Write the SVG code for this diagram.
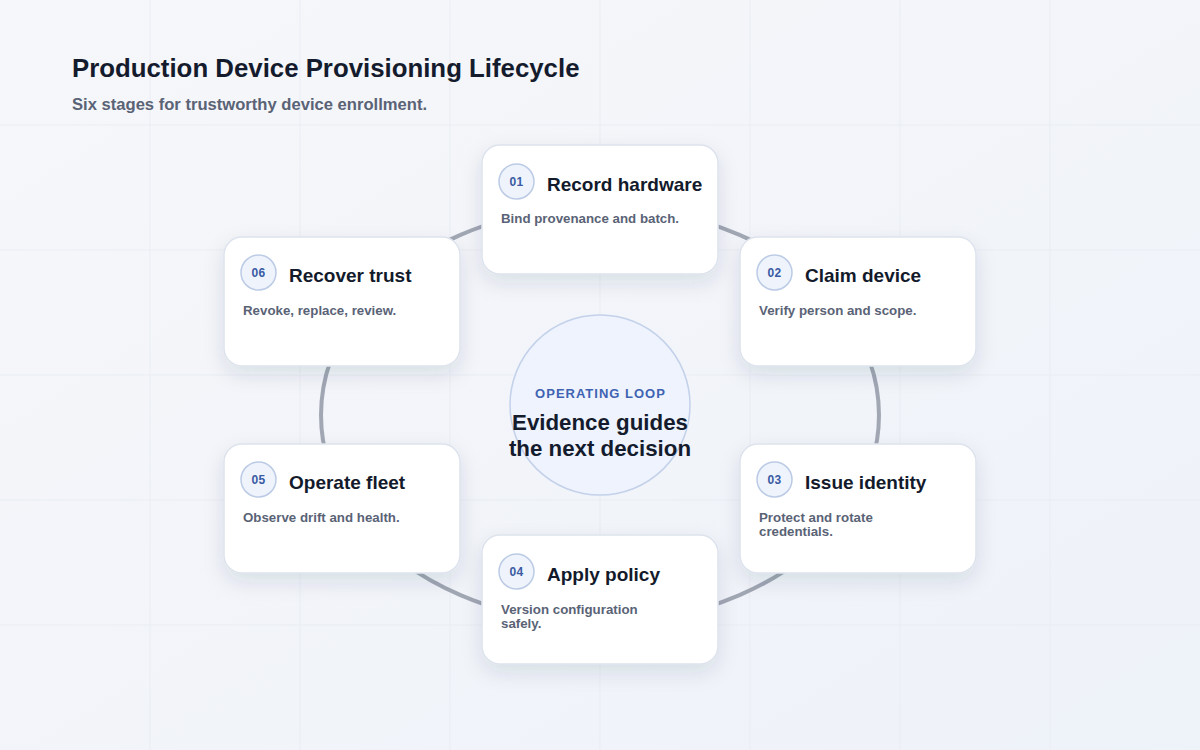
<svg xmlns="http://www.w3.org/2000/svg" width="1200" height="750" viewBox="0 0 1200 750">
<defs>
<linearGradient id="bg" x1="0" y1="0" x2="1" y2="1">
<stop offset="0" stop-color="#f6f7fa"/>
<stop offset="1" stop-color="#eef2f9"/>
</linearGradient>
<filter id="sh" x="-25%" y="-25%" width="150%" height="160%">
<feDropShadow dx="0" dy="8" stdDeviation="10" flood-color="#1f2b45" flood-opacity="0.11"/>
</filter>
<style>
text{font-family:"Liberation Sans",Arial,Helvetica,sans-serif;font-weight:700}
.grid line{stroke:#e9edf3;stroke-width:1}
.card-bg{fill:#ffffff;stroke:#dde3ed;stroke-width:1.5;filter:url(#sh)}
.badge{fill:#eef3fc;stroke:#bccbe5;stroke-width:1.5}
.num{font-size:12px;fill:#3a5ba3;text-anchor:middle;letter-spacing:0.4px}
.ttl{font-size:19px;fill:#131a2b}
.desc{font-size:13.3px;fill:#5a6376}
.ring{fill:none;stroke:#a1a7b3;stroke-width:4;stroke-linecap:round}
.core{fill:#eef3fd;stroke:#c3d1ea;stroke-width:1.5}
.eyebrow{font-size:13px;fill:#3f63b2;text-anchor:middle;letter-spacing:1px}
.big{font-size:22.3px;fill:#141b2d;text-anchor:middle}
.h1{font-size:25.8px;fill:#141b2d}
.h2{font-size:16.6px;fill:#5a6376}
</style>
</defs>
<rect width="1200" height="750" fill="url(#bg)"/>
<g class="grid">
<line x1="150" y1="0" x2="150" y2="750"/>
<line x1="300" y1="0" x2="300" y2="750"/>
<line x1="450" y1="0" x2="450" y2="750"/>
<line x1="600" y1="0" x2="600" y2="750"/>
<line x1="750" y1="0" x2="750" y2="750"/>
<line x1="900" y1="0" x2="900" y2="750"/>
<line x1="1050" y1="0" x2="1050" y2="750"/>
<line x1="0" y1="125" x2="1200" y2="125"/>
<line x1="0" y1="250" x2="1200" y2="250"/>
<line x1="0" y1="375" x2="1200" y2="375"/>
<line x1="0" y1="500" x2="1200" y2="500"/>
<line x1="0" y1="625" x2="1200" y2="625"/>
</g>
<g id="title">
<text class="h1" x="72" y="77">Production Device Provisioning Lifecycle</text>
<text class="h2" x="72" y="109.5">Six stages for trustworthy device enrollment.</text>
</g>
<g id="connectors">
<path class="ring" d="M600 207 A279 208 0 0 1 841.6 311"/>
<path class="ring" d="M841.6 311 A279 208 0 0 1 841.6 519"/>
<path class="ring" d="M841.6 519 A279 208 0 0 1 600 623"/>
<path class="ring" d="M600 623 A279 208 0 0 1 358.4 519"/>
<path class="ring" d="M358.4 519 A279 208 0 0 1 358.4 311"/>
<path class="ring" d="M358.4 311 A279 208 0 0 1 600 207"/>
</g>
<g id="center">
<circle class="core" cx="600" cy="405" r="90"/>
<text class="eyebrow" x="600.5" y="397.5">OPERATING LOOP</text>
<text class="big" x="600" y="429.5">Evidence guides</text>
<text class="big" x="600" y="455.5">the next decision</text>
</g>
<g id="stage-01" transform="translate(482,145)">
<rect class="card-bg" width="236" height="129" rx="18"/>
<circle class="badge" cx="34.5" cy="36.5" r="17.5"/>
<text class="num" x="34.5" y="40.8">01</text>
<text class="ttl" x="65" y="46">Record hardware</text>
<text class="desc" x="19" y="78">Bind provenance and batch.</text>
</g>
<g id="stage-02" transform="translate(740,237)">
<rect class="card-bg" width="236" height="129" rx="18"/>
<circle class="badge" cx="34.5" cy="35.5" r="17.5"/>
<text class="num" x="34.5" y="39.8">02</text>
<text class="ttl" x="65" y="45">Claim device</text>
<text class="desc" x="19" y="78">Verify person and scope.</text>
</g>
<g id="stage-03" transform="translate(740,444)">
<rect class="card-bg" width="236" height="129" rx="18"/>
<circle class="badge" cx="34.5" cy="35.5" r="17.5"/>
<text class="num" x="34.5" y="39.8">03</text>
<text class="ttl" x="65" y="45">Issue identity</text>
<text class="desc" x="19" y="78">Protect and rotate</text>
<text class="desc" x="19" y="91.5">credentials.</text>
</g>
<g id="stage-04" transform="translate(482,535)">
<rect class="card-bg" width="236" height="129" rx="18"/>
<circle class="badge" cx="34.5" cy="36.5" r="17.5"/>
<text class="num" x="34.5" y="40.8">04</text>
<text class="ttl" x="65" y="46">Apply policy</text>
<text class="desc" x="19" y="79">Version configuration</text>
<text class="desc" x="19" y="92.5">safely.</text>
</g>
<g id="stage-05" transform="translate(224,444)">
<rect class="card-bg" width="236" height="129" rx="18"/>
<circle class="badge" cx="34.5" cy="35.5" r="17.5"/>
<text class="num" x="34.5" y="39.8">05</text>
<text class="ttl" x="65" y="45">Operate fleet</text>
<text class="desc" x="19" y="78">Observe drift and health.</text>
</g>
<g id="stage-06" transform="translate(224,237)">
<rect class="card-bg" width="236" height="129" rx="18"/>
<circle class="badge" cx="34.5" cy="35.5" r="17.5"/>
<text class="num" x="34.5" y="39.8">06</text>
<text class="ttl" x="65" y="45">Recover trust</text>
<text class="desc" x="19" y="78">Revoke, replace, review.</text>
</g>
</svg>
